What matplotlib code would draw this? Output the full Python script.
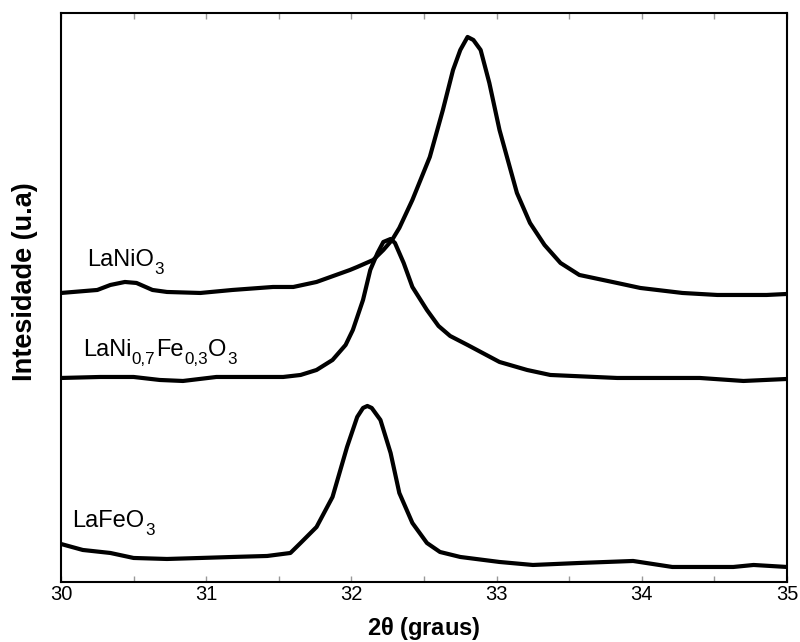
import matplotlib
matplotlib.use('Agg')
import matplotlib.pyplot as plt
from matplotlib.ticker import MultipleLocator
from matplotlib.transforms import offset_copy

# 2theta (graus) and intensity (a.u., offset curves as in the figure)
theta_ni = [30.00, 30.25, 30.34, 30.44, 30.52, 30.63, 30.73, 30.96, 31.18, 31.46,
            31.60, 31.76, 31.99, 32.04, 32.15, 32.22, 32.28, 32.33, 32.42, 32.54,
            32.63, 32.70, 32.75, 32.80, 32.84, 32.89, 32.95, 33.02, 33.14, 33.23,
            33.33, 33.44, 33.57, 33.83, 33.99, 34.28, 34.52, 34.86, 35.00]
int_ni = [289, 292, 297, 300, 299, 292, 290, 289, 292, 295,
          295, 300, 312, 315, 322, 332, 342, 354, 382, 425,
          472, 512, 532, 545, 542, 532, 499, 452, 389, 359,
          337, 319, 307, 299, 294, 289, 287, 287, 288]

theta_nife = [30.00, 30.27, 30.50, 30.68, 30.84, 31.07, 31.30, 31.53, 31.65, 31.76,
              31.87, 31.96, 32.01, 32.08, 32.13, 32.18, 32.22, 32.27, 32.30, 32.36,
              32.42, 32.52, 32.60, 32.68, 32.80, 33.02, 33.21, 33.37, 33.83, 34.40,
              34.70, 35.00]
int_nife = [204, 205, 205, 202, 201, 205, 205, 205, 207, 212,
            222, 237, 252, 282, 312, 329, 340, 343, 339, 319,
            295, 272, 256, 246, 237, 220, 212, 207, 204, 204,
            201, 203]

theta_fe = [30.00, 30.15, 30.34, 30.50, 30.73, 30.96, 31.18, 31.42, 31.58, 31.65,
            31.76, 31.87, 31.97, 32.04, 32.08, 32.11, 32.14, 32.20, 32.27, 32.33,
            32.42, 32.52, 32.61, 32.75, 33.02, 33.25, 33.57, 33.94, 34.21, 34.63,
            34.77, 35.00]
int_fe = [38, 32, 29, 24, 23, 24, 25, 26, 29, 39,
          55, 85, 135, 165, 174, 176, 174, 162, 129, 89,
          59, 39, 30, 25, 20, 17, 19, 21, 15, 15,
          17, 15]

labels = {
    'ni': [('LaNiO', False), ('3', True)],
    'nife': [('LaNi', False), ('0,7', True), ('Fe', False), ('0,3', True), ('O', False), ('3', True)],
    'fe': [('LaFeO', False), ('3', True)],
}

plt.rcParams['font.family'] = ['Liberation Sans', 'DejaVu Sans']
plt.rcParams['mathtext.fontset'] = 'custom'
plt.rcParams['mathtext.rm'] = 'Liberation Sans'
plt.rcParams['mathtext.bf'] = 'Liberation Sans:bold'

fig = plt.figure(figsize=(8, 6.42), dpi=100)
ax = fig.add_axes([0.07625, 0.0935, 0.9075, 0.8863])


def chem_label(x, y, parts, size=17):
    # draw formula piece by piece so subscripts sit low like the original
    renderer = fig.canvas.get_renderer()
    dx = 0
    for s, sub in parts:
        tr = offset_copy(ax.transData, fig, x=dx, y=-8 if sub else 0, units='dots')
        t = ax.text(x, y, s, fontsize=size * 0.72 if sub else size, va='baseline', transform=tr)
        dx += t.get_window_extent(renderer).width + 0.5


for x, y in [(theta_ni, int_ni), (theta_nife, int_nife), (theta_fe, int_fe)]:
    ax.plot(x, y, color='black', lw=3, solid_joinstyle='round', solid_capstyle='round')

ax.set_xlim(30, 35)
ax.set_ylim(0, 569)

chem_label(30.18, 316, labels['ni'])
chem_label(30.15, 226, labels['nife'])
chem_label(30.08, 55, labels['fe'])

ax.xaxis.set_major_locator(MultipleLocator(1))
ax.xaxis.set_minor_locator(MultipleLocator(0.5))
ax.set_yticks([])
ax.tick_params(axis='x', which='both', direction='in', top=True, length=4,
               width=1, color='#999999', labelsize=14.5, pad=2)

for s in ax.spines.values():
    s.set_linewidth(1.5)

ax.set_xlabel(r'2$\mathbf{\theta}$ (graus)', fontsize=17, fontweight='bold', labelpad=8)
ax.set_ylabel('Intesidade (u.a)', fontsize=19.5, fontweight='bold')
ax.yaxis.set_label_coords(-0.032, 0.527)

fig.savefig('out.png', dpi=100)
